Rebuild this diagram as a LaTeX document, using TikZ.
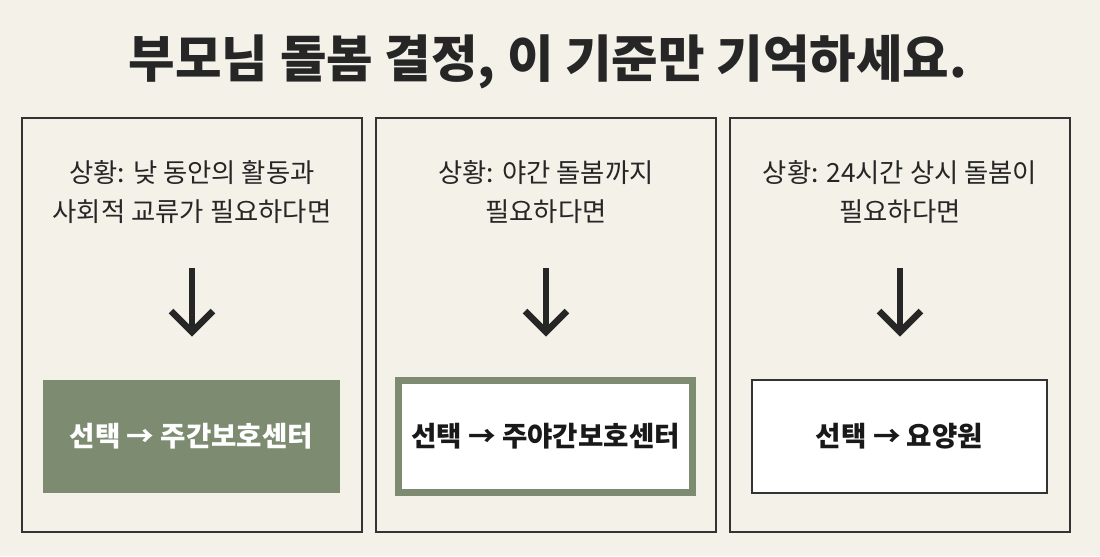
\documentclass[tikz,border=0pt]{standalone}
\usepackage{fontspec}
\setmainfont{Noto Sans CJK KR}
\newfontfamily\krmed{Noto Sans CJK KR Medium}
\begin{document}
\begin{tikzpicture}[x=0.02cm,y=-0.02cm,
  panel/.style={draw=black!80,line width=1.2pt},
  body/.style={font=\fontsize{15}{22.5}\selectfont,text=black!85,align=center},
  pick/.style={font=\bfseries\fontsize{15.7}{18}\selectfont},
  arr/.style={line width=3.8pt,draw=black!85}]
\fill[fill={rgb,255:red,244;green,241;blue,233}] (0,0) rectangle (1100,556);
\useasboundingbox (0,0) rectangle (1100,556);
\node[font=\bfseries\fontsize{28.8}{32}\selectfont,text=black!85] (title) at (548,62) {부모님 돌봄 결정, 이 기준만 기억하세요.};
% panels
\draw[panel] (22,118) rectangle (362,532);
\draw[panel] (376,118) rectangle (716,532);
\draw[panel] (730,118) rectangle (1070,532);
\node[body] (t1) at (192,192) {상황: 낮 동안의 활동과\\사회적 교류가 필요하다면};
\node[body] (t2) at (546,192) {상황: 야간 돌봄까지\\필요하다면};
\node[body] (t3) at (900,192) {상황: 24시간 상시 돌봄이\\필요하다면};
% arrows
\foreach \x/\n in {192/1,546/2,900/3}{
  \coordinate (a\n) at (\x,268); \coordinate (b\n) at (\x,332);
  \draw[arr] (a\n) -- (b\n);
  \draw[arr,line join=miter] (\x-21,311) -- (b\n) -- (\x+21,311);
}
% result boxes
\node[pick,fill={rgb,255:red,125;green,140;blue,113},text=white,minimum width=297*0.02cm,minimum height=113*0.02cm] (r1) at (191.5,436.5) {선택 → 주간보호센터};
\node[pick,fill=white,draw={rgb,255:red,125;green,140;blue,113},line width=4pt,minimum width=294*0.02cm,minimum height=112*0.02cm,text=black!90] (r2) at (545.5,436.5) {선택 → 주야간보호센터};
\node[pick,fill=white,draw=black!80,line width=1.2pt,minimum width=295*0.02cm,minimum height=113*0.02cm,text=black!90] (r3) at (899.5,436.5) {선택 → 요양원};
\end{tikzpicture}
\end{document}
